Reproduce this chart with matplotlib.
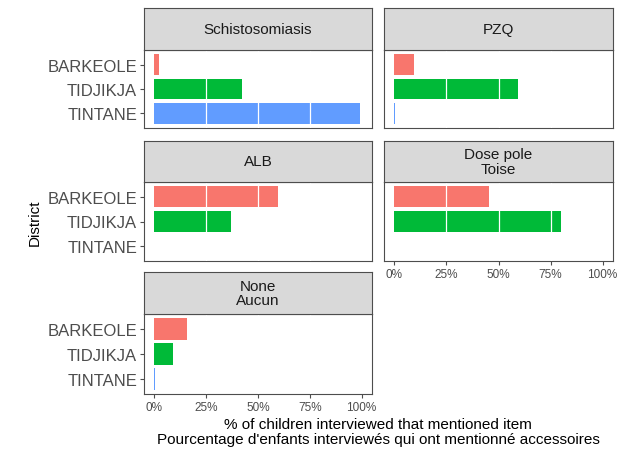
import matplotlib
matplotlib.use("Agg")
import matplotlib.pyplot as plt

plt.rcParams['font.family'] = ['Liberation Sans', 'DejaVu Sans']

districts = ['BARKEOLE', 'TIDJIKJA', 'TINTANE']
colors = ['#F8766D', '#00BA38', '#619CFF']

items = ['Schistosomiasis', 'PZQ', 'ALB', 'Dose pole\nToise', 'None\nAucun']
schisto = [2.4, 42.4, 99.4]
pzq = [9.5, 59.4, 0.4]
alb = [59.7, 36.9, 0.0]
dose_pole = [45.2, 80.2, 0.0]
none_aucun = [15.8, 9.0, 0.5]
values = [schisto, pzq, alb, dose_pole, none_aucun]

x_ticks = [0, 25, 50, 75, 100]
x_labels = ['0%', '25%', '50%', '75%', '100%']

W, H = 619, 452
border = '#4d4d4d'

# panel boxes in pixels: (left, right, strip_top, strip_bottom, panel_bottom)
boxes = [
    (144, 372, 9, 51, 129),
    (384, 613, 9, 51, 129),
    (144, 372, 142, 183, 262),
    (384, 613, 142, 183, 262),
    (144, 372, 273, 315, 395),
]
show_y = [True, False, True, False, True]
show_x = [False, False, False, True, True]

fig = plt.figure(figsize=(W / 100, H / 100), dpi=100)


def frac(l, r, t, b):
    return [l / W, 1 - b / H, (r - l) / W, (b - t) / H]


for i, (l, r, st, sb, pb) in enumerate(boxes):
    ax = fig.add_axes(frac(l, r, sb, pb))
    ypos = [2, 1, 0]
    ax.barh(ypos, values[i], height=0.85, color=colors, zorder=2)
    for g in [25, 50, 75]:
        ax.axvline(g, color='white', lw=0.9, zorder=3)
    ax.set_xlim(-5, 105)
    ax.set_ylim(-0.6, 2.6)
    for s in ax.spines.values():
        s.set_color(border)
        s.set_linewidth(0.8)
    ax.set_yticks(ypos)
    if show_y[i]:
        ax.set_yticklabels(districts, fontsize=12, color='#4d4d4d')
        ax.tick_params(axis='y', length=3, width=0.8, color='#4d4d4d', pad=2)
    else:
        ax.tick_params(axis='y', left=False, labelleft=False)
    ax.set_xticks(x_ticks)
    if show_x[i]:
        ax.set_xticklabels(x_labels, fontsize=8.5, color='#4d4d4d')
        ax.tick_params(axis='x', length=3, width=0.8, color='#4d4d4d', pad=2)
    else:
        ax.tick_params(axis='x', bottom=False, labelbottom=False)

    # facet strip
    sax = fig.add_axes(frac(l, r, st, sb))
    sax.set_facecolor('#D9D9D9')
    sax.set_xticks([])
    sax.set_yticks([])
    for s in sax.spines.values():
        s.set_color(border)
        s.set_linewidth(0.8)
    sax.text(0.5, 0.5, items[i], ha='center', va='center', fontsize=11,
             color='#1a1a1a', transform=sax.transAxes, linespacing=1.08)

fig.text(35 / W, 1 - 223 / H, 'District', rotation=90, ha='center', va='center',
         fontsize=11, color='black')
fig.text(378 / W, 1 - 425.5 / H, '% of children interviewed that mentioned item',
         ha='center', va='center', fontsize=11, color='black')
fig.text(378 / W, 1 - 440.5 / H, "Pourcentage d'enfants interviewés qui ont mentionné accessoires",
         ha='center', va='center', fontsize=11, color='black')

fig.savefig('out.png', dpi=100, facecolor='white')
